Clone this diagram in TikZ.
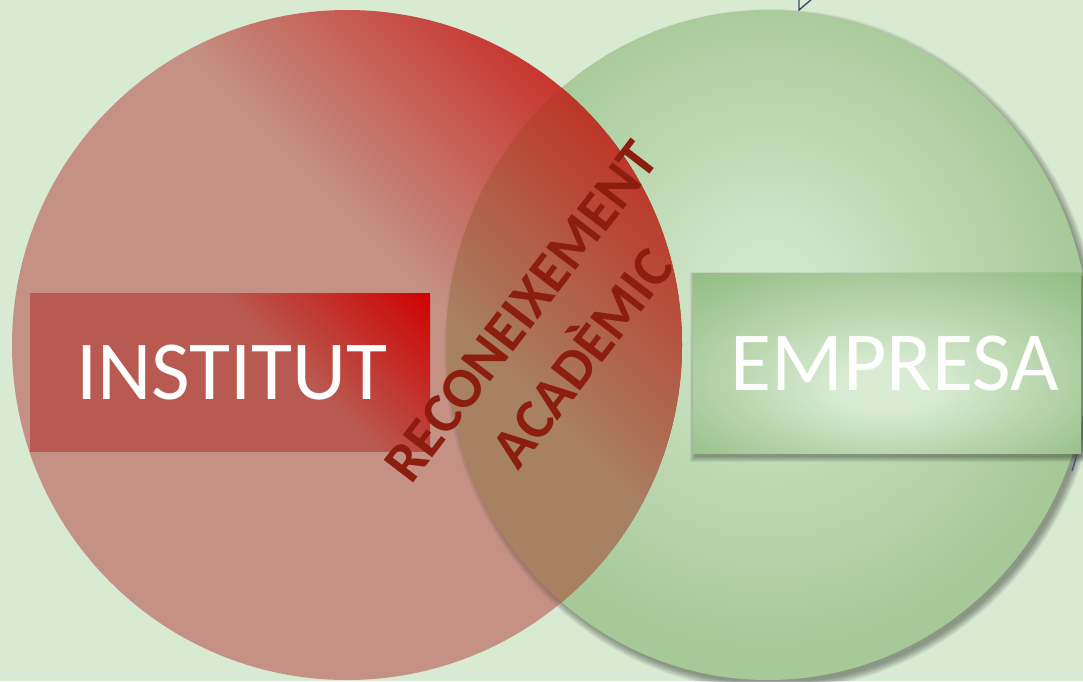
\documentclass[tikz,border=0pt]{standalone}
\usepackage{fontspec}
\setmainfont{Carlito}
\definecolor{bg}{HTML}{D9EAD3}
\definecolor{gin}{HTML}{CFE5C8}
\definecolor{gout}{HTML}{A6C997}
\definecolor{rpink}{HTML}{C49184}
\definecolor{rred}{HTML}{C8352F}
\definecolor{lensbot}{HTML}{A88062}
\definecolor{lenstop}{HTML}{BD3629}
\definecolor{inst1}{HTML}{B85A51}
\definecolor{inst2}{HTML}{D00000}
\definecolor{empin}{HTML}{D9ECD3}
\definecolor{empout}{HTML}{94BD84}
\definecolor{tred}{HTML}{8B1E0F}
\definecolor{navy}{HTML}{3F4D70}
\pgfdeclareradialshading{greenshade}{\pgfpoint{0bp}{4bp}}{color(0bp)=(gin); color(4bp)=(gin); color(25bp)=(gout); color(50bp)=(gout)}
\pgfdeclareradialshading{empshade}{\pgfpoint{0bp}{-8bp}}{color(0bp)=(empin); color(6bp)=(empin); color(36bp)=(empout); color(50bp)=(empout)}
\pgfdeclarehorizontalshading{redshade}{100bp}{color(0bp)=(rpink); color(57bp)=(rpink); color(75bp)=(rred); color(100bp)=(rred)}
\pgfdeclarehorizontalshading{lensshade}{100bp}{color(0bp)=(lensbot); color(57bp)=(lensbot); color(75bp)=(lenstop); color(100bp)=(lenstop)}
\pgfdeclarehorizontalshading{instshade}{100bp}{color(0bp)=(inst1); color(56bp)=(inst1); color(75bp)=(inst2); color(100bp)=(inst2)}
\begin{document}
\begin{tikzpicture}[x=1pt,y=-1pt,
  lbl/.style={text=white, inner sep=0pt, anchor=base, font=\fontsize{84}{100}\selectfont},
  rectext/.style={rotate=52.5, text=tred, inner sep=0pt, align=center, font=\bfseries\fontsize{57}{77}\selectfont},
  frag/.style={navy, line width=1.4pt}]
\useasboundingbox (0,0) rectangle (1083,681);
\fill[bg] (0,0) rectangle (1083,681);
% green circle with soft shadow
\foreach \i in {0,...,7}{\fill[black,opacity=0.05] (772,350) ellipse ({321+\i} and {334+\i});}
\shade[shading=greenshade] (768,345) ellipse (322 and 335);
% red circle
\shade[shading=redshade, shading angle=45] (347,345) circle (335);
\begin{scope}
  \clip (347,345) circle (335);
  \foreach \i in {0,...,7}{\fill[black,opacity=0.03] (772,350) ellipse ({321+\i} and {334+\i});}
  \clip (768,345) ellipse (322 and 335);
  \shade[shading=lensshade, shading angle=45] (347,345) circle (335);
\end{scope}
% INSTITUT box
\begin{scope}
  \clip (30,293) rectangle (430,451);
  \shade[shading=instshade, shading angle=45] (30,172) rectangle (430,572);
\end{scope}
\node[lbl] (institut) at (232,399) {INSTITUT};
% EMPRESA box
\foreach \i in {0,...,5}{\fill[black,opacity=0.06] ({695-\i},{277-\i}) rectangle ({1084+\i},{457+\i});}
\shade[shading=empshade] (693,273) rectangle (1081,453);
\node[lbl] (empresa) at (895,390) {EMPRESA};
% overlap label
\node[rectext] (rec) at (552,335) {RECONEIXEMENT\\ACADÈMIC};
% fragments of a hidden outline
\coordinate (f1) at (799,-2);
\coordinate (f2) at (799,10);
\coordinate (f3) at (813,-2);
\coordinate (f4) at (1077,455);
\coordinate (f5) at (1072,471);
\draw[frag] (f1) -- (f2) -- (f3);
\draw[frag, line width=1.2pt] (f4) -- (f5);
\end{tikzpicture}
\end{document}
